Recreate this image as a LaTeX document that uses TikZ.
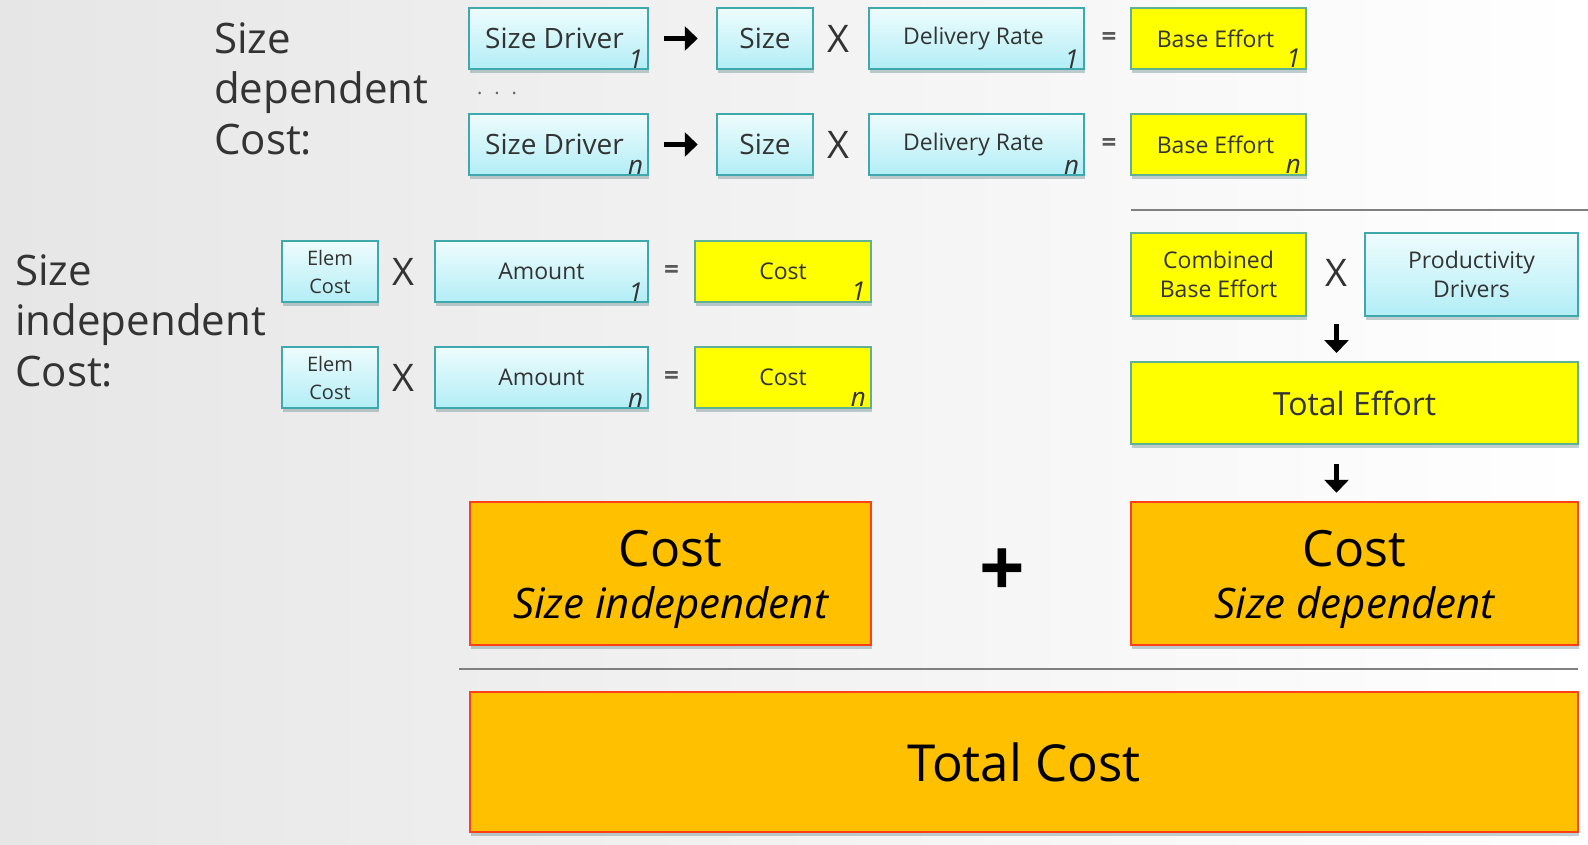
\documentclass[tikz,border=0pt]{standalone}
\usepackage{fontspec}
\setmainfont{Open Sans}
\usetikzlibrary{arrows.meta,shadows,calc}
\definecolor{bgL}{RGB}{230,230,230}
\definecolor{tealb}{RGB}{62,168,172}
\definecolor{cyanlt}{RGB}{178,238,246}
\definecolor{cyanwh}{RGB}{238,252,253}
\definecolor{ylw}{RGB}{255,255,0}
\definecolor{ylwb}{RGB}{96,176,150}
\definecolor{org}{RGB}{255,192,0}
\definecolor{orgb}{RGB}{255,64,24}
\definecolor{txt}{RGB}{51,51,51}
\definecolor{sepc}{RGB}{128,128,128}
\definecolor{shd}{RGB}{80,120,125}
\tikzset{
  x=1pt, y=-1pt,
  shad/.style={drop shadow={shadow xshift=1pt, shadow yshift=-4pt, fill=shd, opacity=0.35}},
  basebox/.style={rectangle, inner sep=0pt, align=center, text=txt, shad},
  bluebox/.style={basebox, draw=tealb, line width=2.5pt, top color=cyanwh, bottom color=cyanlt},
  yelbox/.style={basebox, draw=ylwb, line width=2pt, fill=ylw},
  orgbox/.style={basebox, draw=orgb, line width=2.5pt, fill=org, text=black},
  fA/.style={font=\fontsize{28}{30}\selectfont},
  fB/.style={font=\fontsize{23}{29}\selectfont},
  fC/.style={font=\fontsize{20}{28}\selectfont},
  op/.style={inner sep=0pt, text=txt, font=\fontsize{38}{38}\selectfont},
  eqop/.style={inner sep=0pt, text=black!65, font=\bfseries\fontsize{26}{26}\selectfont},
  sub/.style={anchor=south east, inner sep=0pt, text=txt, font=\itshape\fontsize{26}{26}\selectfont},
  lbl/.style={anchor=north west, inner sep=0pt, align=left, text=txt, font=\fontsize{42}{50.6}\selectfont},
  harr/.style={-{Triangle[length=13pt,width=24pt]}, line width=5pt, black},
  sepline/.style={draw=sepc, line width=2.5pt},
}
\begin{document}
\begin{tikzpicture}
\useasboundingbox (0,0) rectangle (1588,844);
\shade[left color=bgL, right color=white] (0,0) rectangle (1588,844);

% labels
\node[lbl] (lsd) at (214,22) {Size\\dependent\\Cost:};
\node[lbl] (lsi) at (15,254) {Size\\independent\\Cost:};

% size dependent rows
\foreach \r/\yy/\s in {a/38.5/1, b/144.5/n}{
  \node[bluebox, fA, minimum width=179pt, minimum height=61pt] (sd\r) at (558.5,\yy) {Size Driver\hspace{8pt}};
  \node[sub] at ([xshift=-6pt,yshift=2pt]sd\r.south east) {\s};
  \node[bluebox, fA, minimum width=96pt, minimum height=61pt] (sz\r) at (765,\yy) {Size};
  \node[op] (x\r) at (838.5,\yy) {X};
  \node[bluebox, fB, minimum width=215pt, minimum height=61pt] (dr\r) at (976.5,\yy) {Delivery Rate\hspace{6pt}};
  \node[sub] at ([xshift=-6pt,yshift=2pt]dr\r.south east) {\s};
  \node[eqop] (e\r) at (1109,\yy) {=};
  \node[yelbox, fB, minimum width=175pt, minimum height=61pt] (be\r) at (1218.5,\yy) {Base Effort\hspace{6pt}};
  \node[sub] at ([xshift=-6pt,yshift=2pt]be\r.south east) {\s};
  \draw[harr, shorten <=15pt, shorten >=18pt] (sd\r.east) -- (sz\r.west);
}
\node[inner sep=0pt, text=black!60, font=\fontsize{20}{20}\selectfont] (dots) at (497,93) {.\hspace{12pt}.\hspace{12pt}.};

% size independent rows
\foreach \r/\yy/\s in {a/271.5/1, b/377.5/n}{
  \node[bluebox, fC, minimum width=96pt, minimum height=61pt] (ec\r) at (330,\yy) {Elem\\Cost};
  \node[op] (xi\r) at (403,\yy) {X};
  \node[bluebox, fB, minimum width=213pt, minimum height=61pt] (am\r) at (541.5,\yy) {Amount};
  \node[sub] at ([xshift=-6pt,yshift=2pt]am\r.south east) {\s};
  \node[eqop] (ei\r) at (671.5,\yy) {=};
  \node[yelbox, fB, minimum width=176pt, minimum height=61pt] (co\r) at (783,\yy) {Cost};
  \node[sub] at ([xshift=-6pt,yshift=2pt]co\r.south east) {\s};
}

% right side
\draw[sepline] (1131,210) coordinate (s1a) -- (1588,210) coordinate (s1b);
\node[yelbox, fB, minimum width=175pt, minimum height=83pt] (cbe) at (1218.5,274.5) {Combined\\Base Effort};
\node[op] (xp) at (1336.5,273) {X};
\node[bluebox, fB, minimum width=213pt, minimum height=83pt] (pd) at (1471.5,274.5) {Productivity\\Drivers};
\node[yelbox, font=\fontsize{32}{34}\selectfont, minimum width=447pt, minimum height=82pt] (te) at (1354.5,403) {Total Effort};
\coordinate (a1s) at (1336.5,324);
\draw[harr] (a1s) -- ([yshift=8pt]a1s |- te.north);

% cost boxes
\node[orgbox, font=\fontsize{42}{52}\selectfont, minimum width=401pt, minimum height=143pt] (csi) at (670.5,573.5)
  {{\fontsize{50}{52}\selectfont\rule{0pt}{48pt}Cost}\\{\itshape Size independent}};
\node[inner sep=0pt, font=\bfseries\fontsize{80}{80}\selectfont] (plus) at (1002.5,573) {+};
\node[orgbox, font=\fontsize{42}{52}\selectfont, minimum width=447pt, minimum height=143pt] (csd) at (1354.5,573.5)
  {{\fontsize{50}{52}\selectfont\rule{0pt}{48pt}Cost}\\{\itshape Size dependent}};
\draw[harr, shorten <=19pt, shorten >=8pt] (a1s |- te.south) -- (a1s |- csd.north);

\draw[sepline] (459,669) coordinate (s2a) -- (1578,669) coordinate (s2b);
\node[orgbox, font=\fontsize{51}{54}\selectfont, minimum width=1108pt, minimum height=140pt] (tc) at (1024,762) {Total Cost};
\end{tikzpicture}
\end{document}
